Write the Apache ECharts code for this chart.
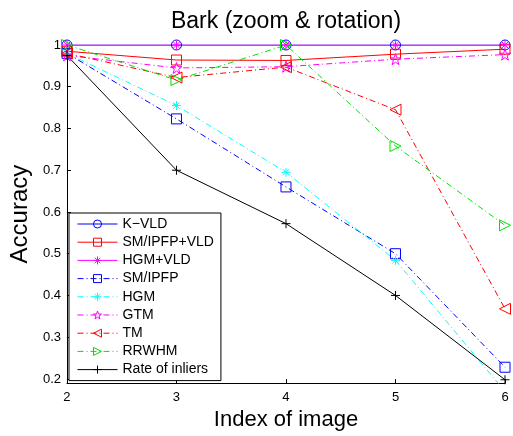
<!DOCTYPE html>
<html lang="en">
<head>
    <meta charset="UTF-8">
    <title>Bark (zoom & rotation)</title>
    <script src="https://cdn.jsdelivr.net/npm/echarts@6/dist/echarts.min.js"></script>
    <style>
        html, body { margin: 0; padding: 0; background: #fff; }
        #main { width: 513px; height: 436px; }
    </style>
</head>
<body>
<div id="main"></div>
<script>
    // 横轴：图像序号
    var imageIndex = [2, 3, 4, 5, 6];
    var yTicks = [0.2, 0.3, 0.4, 0.5, 0.6, 0.7, 0.8, 0.9, 1];

    // 各方法的准确率
    var kvld      = [1.000, 1.000, 1.000, 1.000, 1.000];
    var smipfpVld = [0.985, 0.964, 0.963, 0.978, 0.990];
    var hgmVld    = [1.000, 1.000, 1.000, 1.000, 1.000];
    var smipfp    = [0.980, 0.823, 0.660, 0.500, 0.228];
    var hgm       = [0.980, 0.855, 0.695, 0.484, 0.170];
    var gtm       = [0.975, 0.945, 0.948, 0.966, 0.977];
    var tm        = [0.980, 0.922, 0.947, 0.845, 0.368];
    var rrwhm     = [1.000, 0.916, 1.000, 0.758, 0.568];
    var inliers   = [0.975, 0.700, 0.572, 0.400, 0.198];

    var FONT = 'Liberation Sans, Arial, sans-serif';
    var dashDot = [6, 3, 1, 3];

    // 标记形状
    var PLUS = 'path://M0,-10 L0,10 M-10,0 L10,0';
    var ASTER = 'path://M0,-10 L0,10 M-10,0 L10,0 M-7,-7 L7,7 M-7,7 L7,-7';
    var STAR = 'path://M0,-10 L2.35,-3.24 L9.51,-3.09 L3.80,1.24 L5.88,8.09 L0,4 L-5.88,8.09 L-3.80,1.24 L-9.51,-3.09 L-2.35,-3.24 Z';
    var TRI_L = 'path://M-8,0 L8,-8 L8,8 Z';
    var TRI_R = 'path://M8,0 L-8,-8 L-8,8 Z';

    function pairs(vals) {
        return vals.map(function (v, i) { return [imageIndex[i], v]; });
    }

    function mkSeries(name, vals, color, lineType, symbol, size) {
        return {
            name: name,
            type: 'line',
            data: pairs(vals),
            symbol: symbol,
            symbolSize: size,
            showAllSymbol: true,
            clip: true,
            animation: false,
            lineStyle: { color: color, width: 1, type: lineType },
            itemStyle: { color: 'transparent', borderColor: color, borderWidth: 1 }
        };
    }

    var series = [
        mkSeries('K\u2212VLD', kvld, '#0000ff', 'solid', 'circle', 10),
        mkSeries('SM/IPFP+VLD', smipfpVld, '#ff0000', 'solid', 'rect', 10),
        mkSeries('HGM+VLD', hgmVld, '#ff00ff', 'solid', ASTER, 9),
        mkSeries('SM/IPFP', smipfp, '#0000ff', dashDot, 'rect', 10),
        mkSeries('HGM', hgm, '#00ffff', dashDot, ASTER, 9),
        mkSeries('GTM', gtm, '#ff00ff', dashDot, STAR, 11),
        mkSeries('TM', tm, '#ff0000', dashDot, TRI_L, 11),
        mkSeries('RRWHM', rrwhm, '#00e000', dashDot, TRI_R, 11),
        mkSeries('Rate of inliers', inliers, '#000000', 'solid', PLUS, 9)
    ];

    var chart = echarts.init(document.getElementById('main'), null, { renderer: 'canvas' });
    chart.setOption({
        backgroundColor: '#fff',
        animation: false,
        title: {
            text: 'Bark (zoom & rotation)',
            left: 281,
            textAlign: 'center',
            top: 5,
            textStyle: { fontFamily: FONT, fontSize: 23, fontWeight: 'normal', color: '#000' }
        },
        grid: { left: 62, right: 8, top: 45, bottom: 51 },
        legend: {
            orient: 'vertical',
            left: 69,
            top: 213,
            padding: [4, 7, 4, 8],
            itemWidth: 40,
            itemHeight: 10,
            itemGap: 4.2,
            borderColor: '#000',
            borderWidth: 1,
            backgroundColor: '#fff',
            lineStyle: { width: 1 },
            itemStyle: { borderWidth: 1 },
            textStyle: { fontFamily: FONT, fontSize: 14, color: '#000', lineHeight: 14 },
            data: series.map(function (s) { return s.name; })
        },
        xAxis: {
            type: 'value',
            min: 2,
            max: 6,
            interval: 1,
            name: 'Index of image',
            nameLocation: 'middle',
            nameGap: 21,
            nameTextStyle: { fontFamily: FONT, fontSize: 22, color: '#000' },
            axisLine: { lineStyle: { color: '#000', width: 1 } },
            axisTick: { inside: true, length: 4, lineStyle: { color: '#000' } },
            axisLabel: { fontFamily: FONT, fontSize: 13, color: '#000', margin: 8 },
            splitLine: { show: false }
        },
        yAxis: {
            type: 'value',
            min: 0.19,
            max: 1,
            name: 'Accuracy',
            nameLocation: 'middle',
            nameGap: 27,
            nameTextStyle: { fontFamily: FONT, fontSize: 24, color: '#000' },
            axisLine: { show: true, lineStyle: { color: '#000', width: 1 } },
            axisTick: { inside: true, length: 4, customValues: yTicks, lineStyle: { color: '#000' } },
            axisLabel: {
                fontFamily: FONT, fontSize: 13, color: '#000', margin: 6,
                customValues: yTicks,
                formatter: function (v) { return Math.abs(v - 1) < 1e-9 ? '1' : v.toFixed(1); }
            },
            splitLine: { show: false }
        },
        series: series
    });
</script>
</body>
</html>
